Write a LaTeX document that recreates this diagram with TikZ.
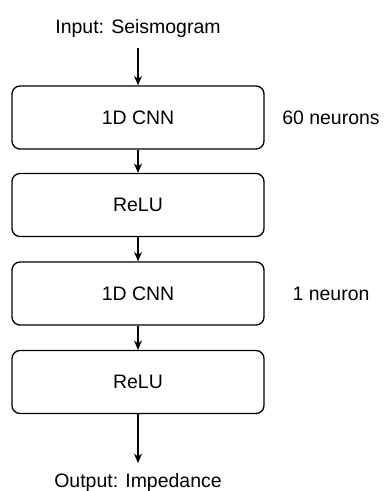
\documentclass[tikz,border=0pt]{standalone}
\usepackage{fontspec}
\setmainfont{Liberation Sans}
\usetikzlibrary{arrows.meta}
\begin{document}
\begin{tikzpicture}[x=0.75pt,y=-0.75pt,
  layer/.style={draw=black, line width=1pt, rounded corners=6pt,
    minimum width=189pt, minimum height=47.25pt, inner sep=0pt,
    font=\fontsize{14.6}{17}\selectfont},
  lbl/.style={inner sep=0pt, font=\fontsize{14.6}{17}\selectfont},
  flow/.style={draw=black, line width=1pt,
    -{Stealth[length=7pt,width=6pt,inset=2.2pt]}}]
  \useasboundingbox (0,0) rectangle (384,491);
  % input / output captions
  \node[lbl, anchor=base] (in)  at (138,34)  {Input: Seismogram};
  \node[lbl, anchor=base] (out) at (138,487) {Output: Impedance};
  % network layers
  \node[layer] (c1) at (138,117.5) {1D CNN};
  \node[layer] (r1) at (138,205)   {ReLU};
  \node[layer] (c2) at (138,293.5) {1D CNN};
  \node[layer] (r2) at (138,382)   {ReLU};
  % layer sizes
  \node[lbl] (n1) at (331,117.5) {60 neurons};
  \node[lbl] (n2) at (331,293.5) {1 neuron};
  % arrow ends next to the captions
  \coordinate (inTail) at (138,48);
  \coordinate (outHead) at (138,463);
  % data flow
  \draw[flow] (inTail) -- (c1.north);
  \draw[flow] (c1.south) -- (r1.north);
  \draw[flow] (r1.south) -- (c2.north);
  \draw[flow] (c2.south) -- (r2.north);
  \draw[flow] (r2.south) -- (outHead);
\end{tikzpicture}
\end{document}
